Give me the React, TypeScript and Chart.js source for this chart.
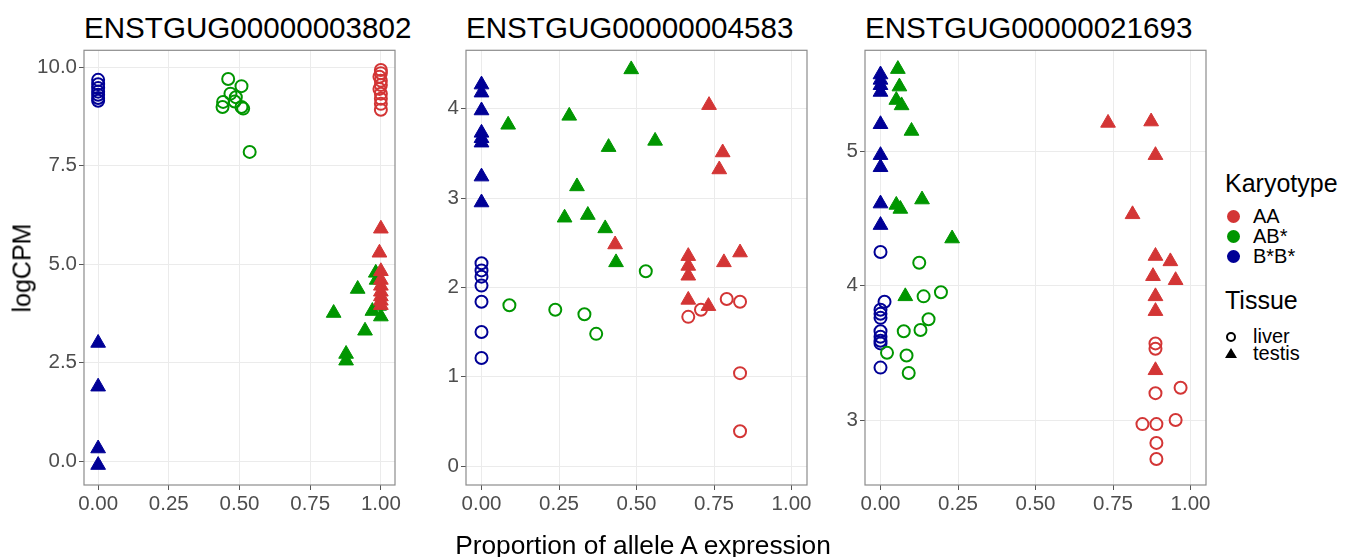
import React, { useEffect, useRef } from "react";
import { Chart, registerables } from "chart.js";

Chart.register(...registerables);

const FONT = "'Liberation Sans', Arial, Helvetica, sans-serif";

const GENES = ["ENSTGUG00000003802", "ENSTGUG00000004583", "ENSTGUG00000021693"];
const KARYOTYPES = ["AA", "AB*", "B*B*"];
const TISSUES = ["liver", "testis"];
const COLORS = ["#D33535", "#009600", "#000096"];
const X_TICKS = [0, 0.25, 0.5, 0.75, 1];
const Y_TICKS_1 = [0, 2.5, 5, 7.5, 10];
const Y_TICKS_2 = [0, 1, 2, 3, 4];
const Y_TICKS_3 = [3, 4, 5];
const X_TITLE = "Proportion of allele A expression";
const Y_TITLE = "logCPM";

// Panel 1: ENSTGUG00000003802
const p1_AA_liver = [[1, 9.93], [1, 9.85], [0.995, 9.76], [1, 9.66], [1, 9.55], [0.995, 9.45], [1, 9.33], [1, 9.2], [1, 9.07], [1, 8.92]];
const p1_AA_testis = [[1, 5.9], [0.995, 5.29], [1, 4.82], [1, 4.6], [1, 4.45], [1, 4.3], [1, 4.18], [1, 4.07], [1, 3.96]];
const p1_AB_liver = [[0.46, 9.7], [0.507, 9.52], [0.468, 9.33], [0.487, 9.24], [0.442, 9.12], [0.44, 8.99], [0.483, 9.13], [0.507, 8.99], [0.513, 8.95], [0.536, 7.85]];
const p1_AB_testis = [[0.982, 4.78], [0.985, 4.6], [0.918, 4.37], [0.833, 3.76], [0.97, 3.81], [0.994, 3.94], [1, 3.67], [0.944, 3.31], [0.877, 2.72], [0.877, 2.55]];
const p1_BB_liver = [[0, 9.68], [0, 9.57], [0, 9.47], [0, 9.38], [0, 9.3], [0, 9.22], [0, 9.15]];
const p1_BB_testis = [[0, 3.0], [0, 1.89], [0, 0.32], [0, -0.1]];

// Panel 2: ENSTGUG00000004583
const p2_AA_liver = [[0.667, 1.67], [0.708, 1.75], [0.791, 1.87], [0.834, 1.84], [0.834, 1.04], [0.834, 0.39]];
const p2_AA_testis = [[0.734, 4.04], [0.778, 3.51], [0.767, 3.32], [0.431, 2.48], [0.667, 2.35], [0.667, 2.24], [0.667, 2.13], [0.782, 2.28], [0.834, 2.39], [0.667, 1.86], [0.732, 1.79]];
const p2_AB_liver = [[0.53, 2.18], [0.09, 1.8], [0.238, 1.75], [0.332, 1.7], [0.37, 1.48]];
const p2_AB_testis = [[0.086, 3.82], [0.283, 3.92], [0.483, 4.44], [0.41, 3.57], [0.56, 3.64], [0.308, 3.13], [0.268, 2.78], [0.343, 2.81], [0.399, 2.66], [0.434, 2.28]];
const p2_BB_liver = [[0, 2.27], [0, 2.19], [0, 2.12], [0, 2.02], [0, 1.84], [0, 1.5], [0, 1.21]];
const p2_BB_testis = [[0, 4.27], [0, 4.18], [0, 3.98], [0, 3.73], [0, 3.67], [0, 3.62], [0, 3.24], [0, 2.95]];

// Panel 3: ENSTGUG00000021693
const p3_AA_liver = [[0.887, 3.57], [0.887, 3.53], [0.887, 3.2], [0.968, 3.24], [0.845, 2.97], [0.89, 2.97], [0.952, 3.0], [0.89, 2.83], [0.89, 2.71]];
const p3_AA_testis = [[0.734, 5.21], [0.873, 5.22], [0.887, 4.97], [0.813, 4.53], [0.887, 4.22], [0.935, 4.18], [0.879, 4.07], [0.952, 4.04], [0.887, 3.92], [0.887, 3.81], [0.887, 3.37]];
const p3_AB_liver = [[0.125, 4.17], [0.139, 3.92], [0.195, 3.95], [0.155, 3.75], [0.129, 3.67], [0.075, 3.66], [0.021, 3.5], [0.084, 3.48], [0.091, 3.35]];
const p3_AB_testis = [[0.056, 5.61], [0.061, 5.48], [0.051, 5.38], [0.068, 5.34], [0.1, 5.15], [0.051, 4.6], [0.064, 4.57], [0.134, 4.64], [0.231, 4.35], [0.08, 3.92]];
const p3_BB_liver = [[0, 4.25], [0.013, 3.88], [0, 3.82], [0, 3.79], [0, 3.76], [0, 3.66], [0, 3.62], [0, 3.59], [0, 3.57], [0, 3.39]];
const p3_BB_testis = [[0, 5.57], [0, 5.53], [0, 5.49], [0, 5.44], [0, 5.2], [0, 4.97], [0, 4.88], [0, 4.61], [0, 4.45]];

const PANEL_DATA = [
  [[p1_AA_liver, p1_AA_testis], [p1_AB_liver, p1_AB_testis], [p1_BB_liver, p1_BB_testis]],
  [[p2_AA_liver, p2_AA_testis], [p2_AB_liver, p2_AB_testis], [p2_BB_liver, p2_BB_testis]],
  [[p3_AA_liver, p3_AA_testis], [p3_AB_liver, p3_AB_testis], [p3_BB_liver, p3_BB_testis]],
];
const Y_TICKS = [Y_TICKS_1, Y_TICKS_2, Y_TICKS_3];
const Y_DECIMALS = [1, 0, 0];
const Y_RANGES = [[-0.606, 10.43], [-0.212, 4.654], [2.517, 5.75]];

// layout (plot areas in page pixels)
const AREAS = [
  { L: 84, R: 395, T: 48, B: 485 },
  { L: 466, R: 807, T: 48, B: 485 },
  { L: 865, R: 1206, T: 48, B: 485 },
];
const YW = 70;
const PAD_T = 12;
const PAD_R = 12;
const XH = 40;

const frame = {
  id: "frame",
  afterDraw(chart: any) {
    const a = chart.chartArea;
    const ctx = chart.ctx;
    ctx.save();
    ctx.strokeStyle = "#8c8c8c";
    ctx.lineWidth = 1.2;
    ctx.strokeRect(a.left, a.top, a.right - a.left, a.bottom - a.top);
    ctx.restore();
  },
};

function Panel({ idx }: { idx: number }) {
  const ref = useRef<HTMLCanvasElement>(null);
  const area = AREAS[idx];
  const w = YW + (area.R - area.L) + PAD_R;
  const h = PAD_T + (area.B - area.T) + XH;
  useEffect(() => {
    const datasets: any[] = [];
    KARYOTYPES.forEach((k, ki) => {
      TISSUES.forEach((t, ti) => {
        const liver = t === "liver";
        datasets.push({
          label: k + " " + t,
          data: PANEL_DATA[idx][ki][ti].map(([x, y]) => ({ x, y })),
          pointStyle: liver ? "circle" : "triangle",
          pointRadius: liver ? 6 : 8.5,
          borderWidth: liver ? 2 : 1,
          borderColor: COLORS[ki],
          backgroundColor: liver ? "rgba(0,0,0,0)" : COLORS[ki],
          showLine: false,
          clip: false,
        });
      });
    });
    const decimals = Y_DECIMALS[idx];
    const chart = new Chart(ref.current as HTMLCanvasElement, {
      type: "scatter",
      data: { datasets },
      plugins: [frame],
      options: {
        animation: false,
        responsive: false,
        events: [],
        layout: { padding: { top: PAD_T, right: PAD_R, left: 0, bottom: 0 } },
        plugins: { legend: { display: false }, tooltip: { enabled: false } },
        scales: {
          x: {
            type: "linear",
            min: -0.05,
            max: 1.05,
            afterBuildTicks: (s: any) => {
              s.ticks = X_TICKS.map((v) => ({ value: v }));
            },
            afterFit: (s: any) => {
              s.height = XH;
            },
            grid: { color: "#ebebeb", lineWidth: 1, tickLength: 5, tickColor: "#555", drawTicks: true },
            border: { display: false },
            ticks: {
              padding: 2,
              color: "#4d4d4d",
              font: { family: FONT, size: 20.5 },
              maxRotation: 0,
              autoSkip: false,
              callback: (v: any) => Number(v).toFixed(2),
            },
          },
          y: {
            type: "linear",
            min: Y_RANGES[idx][0],
            max: Y_RANGES[idx][1],
            afterBuildTicks: (s: any) => {
              s.ticks = Y_TICKS[idx].map((v) => ({ value: v }));
            },
            afterFit: (s: any) => {
              s.width = YW;
            },
            grid: { color: "#ebebeb", lineWidth: 1, tickLength: 5, tickColor: "#555", drawTicks: true },
            border: { display: false },
            ticks: {
              padding: 2,
              color: "#4d4d4d",
              font: { family: FONT, size: 20.5 },
              autoSkip: false,
              callback: (v: any) => Number(v).toFixed(decimals),
            },
          },
        },
      } as any,
    });
    return () => chart.destroy();
  }, [idx]);
  return (
    <canvas
      ref={ref}
      width={w}
      height={h}
      style={{ position: "absolute", left: area.L - YW, top: area.T - PAD_T, width: w, height: h }}
    />
  );
}

const txt = (extra: any): any => ({ position: "absolute", whiteSpace: "nowrap", lineHeight: 1, fontFamily: FONT, color: "#000", ...extra });

export default function App() {
  return (
    <div style={{ position: "absolute", left: 0, top: 0, width: 1350, height: 557, background: "#fff", overflow: "hidden", fontFamily: FONT }}>
      {GENES.map((g, i) => (
        <div key={g} style={txt({ left: AREAS[i].L, top: 13, fontSize: 29.6 })}>{g}</div>
      ))}
      {GENES.map((g, i) => (
        <Panel key={"p" + i} idx={i} />
      ))}
      <div style={txt({ left: 643, top: 532, fontSize: 26.3, transform: "translateX(-50%)" })}>{X_TITLE}</div>
      <div style={txt({ left: 22, top: 268, fontSize: 25, transform: "translate(-50%,-50%) rotate(-90deg)" })}>{Y_TITLE}</div>

      <div style={txt({ left: 1225, top: 171, fontSize: 25 })}>Karyotype</div>
      {KARYOTYPES.map((k, i) => (
        <React.Fragment key={k}>
          <div style={{ position: "absolute", left: 1233 - 6.5, top: 216 + i * 20 - 6.5, width: 13, height: 13, borderRadius: "50%", background: COLORS[i] }} />
          <div style={txt({ left: 1253, top: 216 + i * 20 - 10, fontSize: 20 })}>{k}</div>
        </React.Fragment>
      ))}
      <div style={txt({ left: 1225, top: 288, fontSize: 25 })}>Tissue</div>
      <div style={{ position: "absolute", left: 1231 - 5, top: 337 - 5, width: 10, height: 10, borderRadius: "50%", border: "2px solid #000", boxSizing: "border-box" }} />
      <div style={{ position: "absolute", left: 1231 - 6, top: 354 - 6, width: 0, height: 0, borderLeft: "6px solid transparent", borderRight: "6px solid transparent", borderBottom: "10px solid #000" }} />
      <div style={txt({ left: 1253, top: 337 - 11, fontSize: 20 })}>{TISSUES[0]}</div>
      <div style={txt({ left: 1253, top: 354 - 11, fontSize: 20 })}>{TISSUES[1]}</div>
    </div>
  );
}
